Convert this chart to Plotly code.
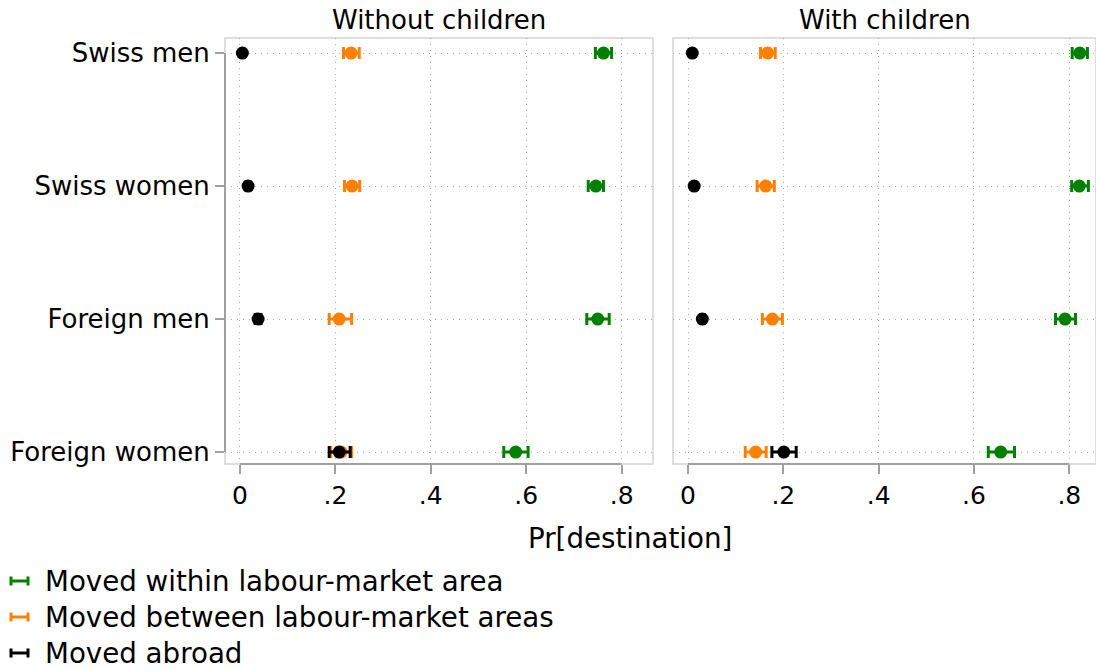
import plotly.graph_objects as go

W, H = 1096, 670

groups = ["Swiss men", "Swiss women", "Foreign men", "Foreign women"]
panels = ["Without children", "With children"]
series = ["Moved within labour-market area", "Moved between labour-market areas", "Moved abroad"]
colors = ["#008000", "#ff8000", "#000000"]

# Without children
within_nc = [0.762, 0.746, 0.750, 0.578]
within_nc_lo = [0.745, 0.730, 0.727, 0.553]
within_nc_hi = [0.779, 0.762, 0.774, 0.604]
between_nc = [0.233, 0.235, 0.208, 0.212]
between_nc_lo = [0.217, 0.219, 0.187, 0.190]
between_nc_hi = [0.250, 0.251, 0.234, 0.234]
abroad_nc = [0.005, 0.017, 0.038, 0.208]
abroad_nc_lo = [0.003, 0.013, 0.032, 0.187]
abroad_nc_hi = [0.008, 0.021, 0.044, 0.231]

# With children
within_wc = [0.822, 0.821, 0.791, 0.656]
within_wc_lo = [0.806, 0.805, 0.771, 0.630]
within_wc_hi = [0.838, 0.840, 0.813, 0.685]
between_wc = [0.167, 0.163, 0.177, 0.142]
between_wc_lo = [0.152, 0.145, 0.156, 0.120]
between_wc_hi = [0.183, 0.181, 0.198, 0.164]
abroad_wc = [0.009, 0.013, 0.030, 0.201]
abroad_wc_lo = [0.007, 0.010, 0.026, 0.176]
abroad_wc_hi = [0.011, 0.016, 0.034, 0.227]

xticks = [0, 0.2, 0.4, 0.6, 0.8]
xticklabels = ["0", ".2", ".4", ".6", ".8"]

FONT = "DejaVu Sans"
FS = 25        # tick labels
FS_LAB = 26    # category labels, panel titles
FS_BIG = 27.7  # axis title, legend

ypos = [len(groups) - 1 - i for i in range(len(groups))]

panel_data = [
    [(within_nc, within_nc_lo, within_nc_hi), (between_nc, between_nc_lo, between_nc_hi), (abroad_nc, abroad_nc_lo, abroad_nc_hi)],
    [(within_wc, within_wc_lo, within_wc_hi), (between_wc, between_wc_lo, between_wc_hi), (abroad_wc, abroad_wc_lo, abroad_wc_hi)],
]

fig = go.Figure()
for p, pdata in enumerate(panel_data):
    xa = "x" if p == 0 else "x2"
    ya = "y" if p == 0 else "y2"
    for s, (v, lo, hi) in enumerate(pdata):
        fig.add_trace(go.Scatter(
            x=v, y=ypos, mode="markers", xaxis=xa, yaxis=ya,
            marker=dict(color=colors[s], size=13, line=dict(width=0)),
            error_x=dict(type="data", symmetric=False,
                         array=[h - m for h, m in zip(hi, v)],
                         arrayminus=[m - l for m, l in zip(v, lo)],
                         color=colors[s], thickness=3, width=6),
            name=series[s], showlegend=False, cliponaxis=False, hoverinfo="skip",
        ))

def px(x):
    return x / W

def py(y):
    return 1 - y / H

dom_left = [px(225), px(653)]
dom_right = [px(673), 1.0]
ydom = [py(464), py(38)]

grid = dict(showgrid=True, gridcolor="#a8a8a8", gridwidth=1, griddash="1px,5px", zeroline=False,
            automargin=False)
tk = dict(ticks="outside", ticklen=9, tickwidth=2, tickcolor="#a0a0a0")

fig.update_layout(
    width=W, height=H, margin=dict(l=0, r=0, t=0, b=0, autoexpand=False),
    paper_bgcolor="white", plot_bgcolor="white",
    font=dict(family=FONT, size=FS, color="black"),
    xaxis=dict(domain=dom_left, range=[-0.0314, 0.8658], tickvals=xticks, ticktext=xticklabels,
               anchor="y", tickfont=dict(size=FS), **tk, **grid),
    xaxis2=dict(domain=dom_right, range=[-0.0315, 0.856], tickvals=xticks, ticktext=xticklabels,
                anchor="y2", tickfont=dict(size=FS), **tk, **grid),
    yaxis=dict(domain=ydom, range=[-0.09, 3.113], tickvals=ypos, ticktext=groups, anchor="x",
               tickfont=dict(size=FS_LAB), **tk, **grid),
    yaxis2=dict(domain=ydom, range=[-0.09, 3.113], tickvals=ypos, showticklabels=False,
                anchor="x2", **grid),
    showlegend=False,
)

shapes = []
# panel frames
for d in (dom_left, dom_right):
    shapes.append(dict(type="rect", xref="paper", yref="paper", x0=d[0], x1=d[1], y0=ydom[0], y1=ydom[1],
                       line=dict(color="#d4d4d4", width=1.5), layer="below"))
# x axis lines (from 0 to .8)
for xr in ("x", "x2"):
    shapes.append(dict(type="line", xref=xr, yref="paper", x0=xticks[0], x1=xticks[-1],
                       y0=ydom[0], y1=ydom[0], line=dict(color="#a0a0a0", width=2)))
# y axis line
shapes.append(dict(type="line", xref="paper", yref="y", x0=dom_left[0], x1=dom_left[0],
                   y0=min(ypos), y1=max(ypos), line=dict(color="#a0a0a0", width=2)))

annotations = []
for p, d in enumerate((dom_left, dom_right)):
    annotations.append(dict(text=panels[p], xref="paper", yref="paper", x=(d[0] + d[1]) / 2, y=py(20),
                            xanchor="center", yanchor="middle", showarrow=False,
                            font=dict(family=FONT, size=FS_LAB)))
annotations.append(dict(text="Pr[destination]", xref="paper", yref="paper", x=px(630), y=py(538),
                        xanchor="center", yanchor="middle", showarrow=False,
                        font=dict(family=FONT, size=FS_BIG)))

# manual legend
leg_y = [581, 617, 653]
for s in range(len(series)):
    yc = leg_y[s]
    shapes.append(dict(type="line", xref="paper", yref="paper", x0=px(11), x1=px(28), y0=py(yc), y1=py(yc),
                       line=dict(color=colors[s], width=3)))
    for xx in (11, 28):
        shapes.append(dict(type="line", xref="paper", yref="paper", x0=px(xx), x1=px(xx),
                           y0=py(yc - 4.5), y1=py(yc + 4.5), line=dict(color=colors[s], width=3)))
    annotations.append(dict(text=series[s], xref="paper", yref="paper", x=px(43), y=py(yc),
                            xanchor="left", yanchor="middle", showarrow=False,
                            font=dict(family=FONT, size=FS_BIG)))

fig.update_layout(shapes=shapes, annotations=annotations)
fig.write_html("out.html", config={"displayModeBar": False},
               post_script="document.body.style.margin='0';document.body.style.overflow='hidden';")
